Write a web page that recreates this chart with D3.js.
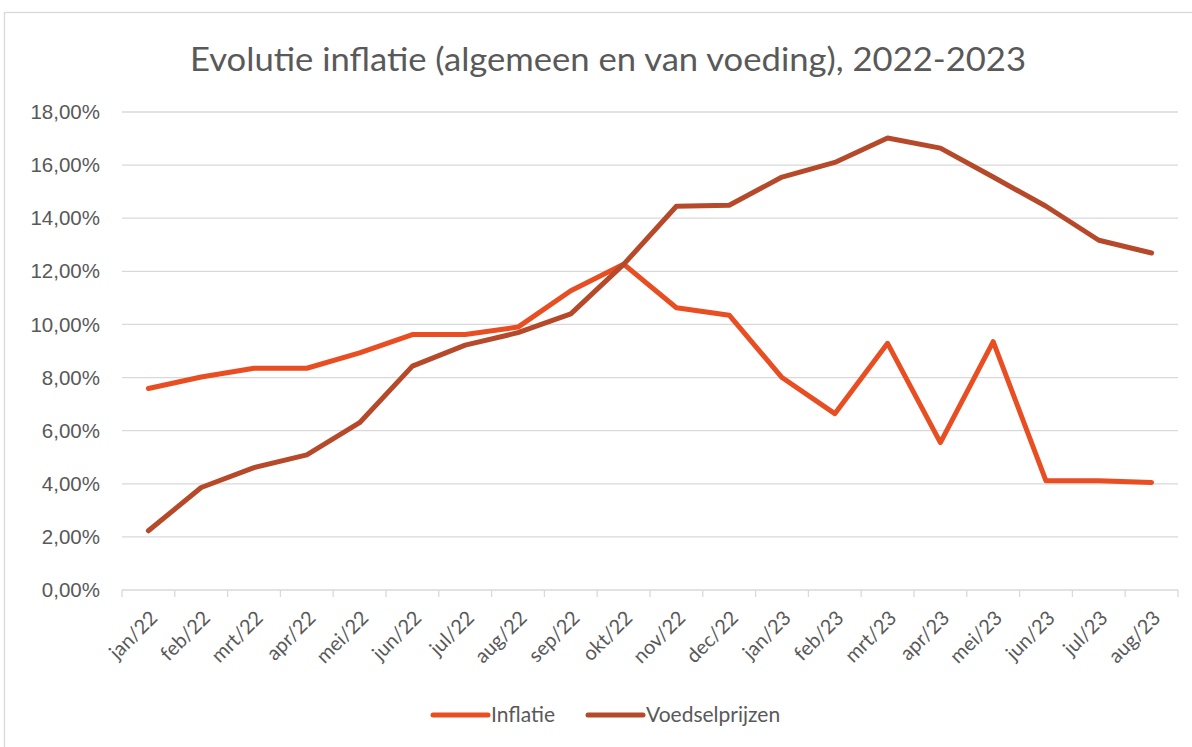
<!DOCTYPE html>
<html lang="nl">
  <head>
    <meta charset="UTF-8" />
    <title>Evolutie inflatie</title>
    <script src="https://d3js.org/d3.v7.min.js"></script>
    <style>
      body {
        margin: 0;
        background: #fff;
        font-family: 'Lato', 'Open Sans', sans-serif;
      }
      .grid line {
        stroke: #d9d9d9;
        stroke-width: 1.3px;
      }
      .tick text {
        fill: #595959;
        font-size: 20.5px;
      }
    </style>
  </head>
  <body>
    <svg width="1192" height="747"></svg>
    <script>
      const months = [
        'jan/22', 'feb/22', 'mrt/22', 'apr/22', 'mei/22', 'jun/22', 'jul/22',
        'aug/22', 'sep/22', 'okt/22', 'nov/22', 'dec/22', 'jan/23', 'feb/23',
        'mrt/23', 'apr/23', 'mei/23', 'jun/23', 'jul/23', 'aug/23',
      ];
      const inflatie = [
        7.59, 8.02, 8.35, 8.35, 8.93, 9.62, 9.62, 9.9, 11.27, 12.27,
        10.63, 10.35, 8.0, 6.64, 9.29, 5.55, 9.35, 4.11, 4.11, 4.05,
      ];
      const voedsel = [
        2.23, 3.86, 4.61, 5.09, 6.3, 8.43, 9.22, 9.69, 10.4, 12.26,
        14.45, 14.49, 15.55, 16.1, 17.02, 16.64, 15.55, 14.45, 13.17, 12.69,
      ];
      const yTicks = [0, 2, 4, 6, 8, 10, 12, 14, 16, 18];

      const series = [
        { name: 'Inflatie', values: inflatie, color: '#e84e22' },
        { name: 'Voedselprijzen', values: voedsel, color: '#b6492a' },
      ];

      const svg = d3.select('svg');

      // chart frame
      svg.append('rect')
        .attr('x', 4.5).attr('y', 12.5)
        .attr('width', 1200).attr('height', 760)
        .attr('fill', 'none')
        .attr('stroke', '#d9d9d9')
        .attr('stroke-width', 1.3);

      svg.append('text')
        .attr('x', 608).attr('y', 71)
        .attr('text-anchor', 'middle')
        .attr('fill', '#595959')
        .attr('textLength', 836)
        .attr('lengthAdjust', 'spacingAndGlyphs')
        .style('font-size', '33px')
        .text('Evolutie inflatie (algemeen en van voeding), 2022-2023');

      const x = d3.scaleBand().domain(months).range([122, 1178]);
      const y = d3.scaleLinear().domain([0, 18]).range([590, 112]);

      // horizontal grid
      svg.append('g')
        .attr('class', 'grid')
        .selectAll('line')
        .data(yTicks.slice(1))
        .join('line')
        .attr('x1', 122).attr('x2', 1178)
        .attr('y1', (d) => y(d)).attr('y2', (d) => y(d));

      const yAxis = svg.append('g')
        .attr('transform', 'translate(100,0)')
        .call(
          d3.axisLeft(y)
            .tickValues(yTicks)
            .tickSize(0)
            .tickPadding(0)
            .tickFormat((d) => d3.format('.2f')(d).replace('.', ',') + '%')
        );
      yAxis.select('.domain').remove();

      // x axis with ticks at band edges
      const xg = svg.append('g').attr('transform', 'translate(0,590)');
      xg.append('line')
        .attr('x1', 122).attr('x2', 1178)
        .attr('stroke', '#d9d9d9').attr('stroke-width', 1.3);
      xg.selectAll('.edge')
        .data(months.concat(['end']))
        .join('line')
        .attr('class', 'edge')
        .attr('x1', (d, i) => 122 + i * x.step())
        .attr('x2', (d, i) => 122 + i * x.step())
        .attr('y1', 0).attr('y2', 7)
        .attr('stroke', '#d9d9d9').attr('stroke-width', 1.3);
      xg.selectAll('.lbl')
        .data(months)
        .join('text')
        .attr('class', 'lbl')
        .attr('text-anchor', 'end')
        .attr('fill', '#595959')
        .attr('dy', '0.72em')
        .style('font-size', '20px')
        .attr('transform', (d) =>
          `translate(${x(d) + x.bandwidth() / 2},${19}) rotate(-45)`)
        .text((d) => d);

      const line = d3.line()
        .x((d, i) => x(months[i]) + x.bandwidth() / 2)
        .y((d) => y(d));

      svg.selectAll('.series')
        .data(series)
        .join('path')
        .attr('class', 'series')
        .attr('d', (s) => line(s.values))
        .attr('fill', 'none')
        .attr('stroke', (s) => s.color)
        .attr('stroke-width', 5)
        .attr('stroke-linejoin', 'round')
        .attr('stroke-linecap', 'round');

      // legend
      const legendPos = [433, 588];
      const lg = svg.selectAll('.legend')
        .data(series)
        .join('g')
        .attr('class', 'legend')
        .attr('transform', (s, i) => `translate(${legendPos[i]},715)`);
      lg.append('line')
        .attr('x1', 0).attr('x2', 55)
        .attr('stroke', (s) => s.color)
        .attr('stroke-width', 5)
        .attr('stroke-linecap', 'round');
      lg.append('text')
        .attr('x', 58).attr('dy', '0.35em')
        .attr('fill', '#595959')
        .style('font-size', '21px')
        .text((s) => s.name);
    </script>
  </body>
</html>
